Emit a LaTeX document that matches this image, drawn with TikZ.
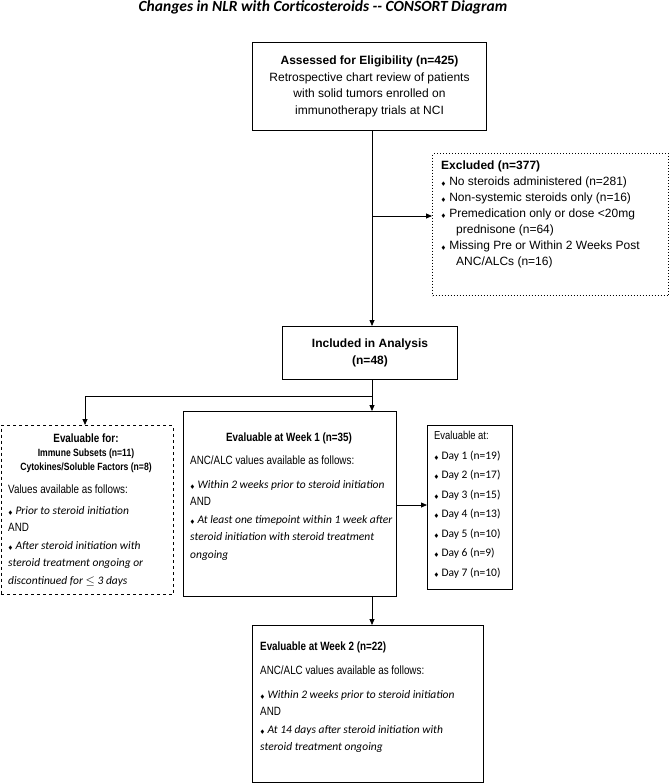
\documentclass[tikz,border=0pt]{standalone}
\usepackage{amssymb}
\usepackage{fontspec}
\setmainfont{Liberation Sans}
\newfontfamily\carl{Carlito}
\newfontfamily\narr{Liberation Sans}[FakeStretch=0.82]
\usetikzlibrary{arrows.meta,positioning}
\begin{document}
\begin{tikzpicture}[x=1pt,y=-1pt,
  box/.style={draw,line width=1pt,anchor=north west,inner sep=0pt},
  txt/.style={anchor=north west,inner sep=0pt,align=left,font=\fontsize{12}{16}\selectfont},
  arr/.style={-{Triangle[length=6pt,width=5pt]},line width=0.8pt}]
\useasboundingbox (0,0) rectangle (669,784);
\newcommand{\dm}{{\fontsize{5}{5}\selectfont$\blacklozenge$}\ }
\node[font=\carl\bfseries\itshape\fontsize{15.5}{17}\selectfont] (title) at (323,7) {Changes in NLR with Corticosteroids -- CONSORT Diagram};
% assessed
\node[box,minimum width=234pt,minimum height=88pt] (a) at (252,42) {};
\node[align=center,font=\fontsize{12}{16.5}\selectfont,inner sep=0pt] at (a.center) {\textbf{Assessed for Eligibility (n=425)}\\Retrospective chart review of patients\\with solid tumors enrolled on\\immunotherapy trials at NCI};
% excluded
\node[box,dotted,minimum width=236pt,minimum height=142pt] (ex) at (432,153) {};
\node[txt] at (441,161) {\textbf{Excluded (n=377)}\\\dm No steroids administered (n=281)\\\dm Non-systemic steroids only (n=16)\\\dm Premedication only or dose <20mg\\\hspace*{15pt}prednisone (n=64)\\\dm Missing Pre or Within 2 Weeks Post\\\hspace*{15pt}ANC/ALCs (n=16)};
% included
\node[box,minimum width=175pt,minimum height=53pt] (inc) at (282,326) {};
\node[align=center,font=\bfseries\fontsize{12}{16.5}\selectfont,inner sep=0pt] at (inc.center) {Included in Analysis\\(n=48)};
% dashed left
\node[box,dashed,minimum width=172pt,minimum height=169pt] (l) at (0.5,425) {};
\node[align=center,inner sep=0pt,anchor=north,font=\narr\bfseries\fontsize{12}{14}\selectfont] at (86,434) {Evaluable for:\\{\fontsize{10.5}{14}\selectfont Immune Subsets (n=11)}\\{\fontsize{10.5}{14}\selectfont Cytokines/Soluble Factors (n=8)}};
\node[txt,font=\narr\fontsize{12}{17.5}\selectfont] at (8,485) {Values available as follows:\\[3pt]{\carl\itshape\fontsize{11.5}{17.5}\selectfont\dm Prior to steroid initiation}\\AND\\{\carl\itshape\fontsize{11.5}{17.5}\selectfont\dm After steroid initiation with}\\{\carl\itshape\fontsize{11.5}{17.5}\selectfont steroid treatment ongoing or}\\{\carl\itshape\fontsize{11.5}{17.5}\selectfont discontinued for $\le$ 3 days}};
% week1
\node[box,minimum width=213pt,minimum height=185pt] (w1) at (183,411) {};
\node[font=\narr\bfseries\fontsize{12}{14}\selectfont,inner sep=0pt] at (289,438) {Evaluable at Week 1 (n=35)};
\node[txt,font=\narr\fontsize{12}{17.5}\selectfont] at (190,456) {ANC/ALC values available as follows:\\[6pt]{\carl\itshape\fontsize{11.5}{17.5}\selectfont\dm Within 2 weeks prior to steroid initiation}\\AND\\{\carl\itshape\fontsize{11.5}{17.5}\selectfont\dm At least one timepoint within 1 week after}\\{\carl\itshape\fontsize{11.5}{17.5}\selectfont steroid initiation with steroid treatment}\\{\carl\itshape\fontsize{11.5}{17.5}\selectfont ongoing}};
% days
\node[box,minimum width=85pt,minimum height=164pt] (d) at (427,425) {};
\node[txt,font=\narr\fontsize{11.5}{19.5}\selectfont] at (434,431) {Evaluable at:\\{\carl\dm Day 1 (n=19)}\\{\carl\dm Day 2 (n=17)}\\{\carl\dm Day 3 (n=15)}\\{\carl\dm Day 4 (n=13)}\\{\carl\dm Day 5 (n=10)}\\{\carl\dm Day 6 (n=9)}\\{\carl\dm Day 7 (n=10)}};
% week2
\node[box,minimum width=231pt,minimum height=157pt] (w2) at (252,625) {};
\node[font=\narr\bfseries\fontsize{12}{14}\selectfont,inner sep=0pt,anchor=west] at (260,647) {Evaluable at Week 2 (n=22)};
\node[txt,font=\narr\fontsize{12}{17.5}\selectfont] at (260,666) {ANC/ALC values available as follows:\\[6pt]{\carl\itshape\fontsize{11.5}{17.5}\selectfont\dm Within 2 weeks prior to steroid initiation}\\AND\\{\carl\itshape\fontsize{11.5}{17.5}\selectfont\dm At 14 days after steroid initiation with}\\{\carl\itshape\fontsize{11.5}{17.5}\selectfont steroid treatment ongoing}};
% connectors
\coordinate (j1) at (372,216);
\coordinate (j2) at (372,396);
\coordinate (j3) at (85,396);
\draw[arr] (a.south -| j1) -- (inc.north -| j1);
\draw[arr] (j1) -- (j1 -| ex.west);
\draw[arr] (inc.south -| j2) -- (w1.north -| j2);
\draw[arr] (j2) -- (j3) -- (j3 |- l.north);
\draw[arr] (w1.east |- 0,505) -- (d.west |- 0,505);
\draw[arr] (w1.south -| j2) -- (w2.north -| j2);
\end{tikzpicture}
\end{document}
